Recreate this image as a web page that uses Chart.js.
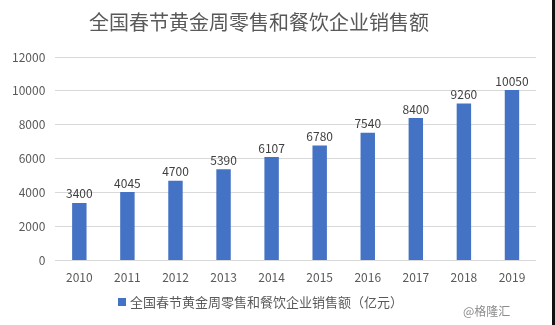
<!DOCTYPE html>
<html>
<head>
<meta charset="utf-8">
<script src="https://cdn.jsdelivr.net/npm/chart.js@4.4.1/dist/chart.umd.min.js"></script>
<style>
  html, body { margin: 0; padding: 0; background: #fff; }
  #wrap { position: relative; width: 552px; height: 325px; border-right: 3px solid #111; }
  canvas { display: block; }
</style>
</head>
<body>
<div id="wrap"><canvas id="chart" width="552" height="325"></canvas></div>
<script>
// 全国春节黄金周零售和餐饮企业销售额（亿元）
const years = ['2010', '2011', '2012', '2013', '2014', '2015', '2016', '2017', '2018', '2019'];
const sales = [3400, 4045, 4700, 5390, 6107, 6780, 7540, 8400, 9260, 10050];
const yTicks = [0, 2000, 4000, 6000, 8000, 10000, 12000];

const TITLE = '全国春节黄金周零售和餐饮企业销售额';
const SERIES = '全国春节黄金周零售和餐饮企业销售额（亿元）';
const BAR = '#4472C4';
const TEXT = '#595959';
const FONT = '"Noto Sans CJK SC", "Microsoft YaHei", sans-serif';

// title, value labels, legend and watermark drawn straight on the canvas
const decor = {
    id: 'decor',
    afterDatasetsDraw(chart) {
        const c = chart.ctx;
        const meta = chart.getDatasetMeta(0);
        c.save();
        c.fillStyle = '#404040';
        c.font = '12px ' + FONT;
        c.textAlign = 'center';
        c.textBaseline = 'bottom';
        meta.data.forEach((bar, i) => {
            c.fillText(String(sales[i]), bar.x, bar.y - 3);
        });
        c.restore();
    },
    afterDraw(chart) {
        const c = chart.ctx;
        c.save();
        c.fillStyle = TEXT;
        c.textBaseline = 'middle';
        c.textAlign = 'center';
        c.font = '20px ' + FONT;
        c.fillText(TITLE, 259, 22);

        // legend
        c.font = '13px ' + FONT;
        c.textAlign = 'left';
        c.fillStyle = BAR;
        c.fillRect(118, 298, 8, 8);
        c.fillStyle = TEXT;
        c.fillText(SERIES, 130, 302);

        // watermark
        c.fillStyle = '#8c8c8c';
        c.font = '12px ' + FONT;
        c.fillText('@格隆汇', 463, 311);
        c.restore();
    }
};

new Chart(document.getElementById('chart'), {
    type: 'bar',
    data: {
        labels: years,
        datasets: [{
            label: SERIES,
            data: sales,
            backgroundColor: BAR,
            barPercentage: 0.3,
            categoryPercentage: 1.0,
        }],
    },
    options: {
        responsive: false,
        animation: false,
        layout: { padding: { top: 57, left: 2, right: 16, bottom: 30 } },
        plugins: {
            legend: { display: false },
            tooltip: { enabled: false },
        },
        scales: {
            x: {
                grid: { display: false, drawTicks: false },
                border: { display: false },
                ticks: { color: TEXT, font: { size: 12, family: FONT }, padding: 10 },
            },
            y: {
                min: 0, max: 12000,
                afterBuildTicks(axis) { axis.ticks = yTicks.map(v => ({ value: v })); },
                grid: { color: '#D9D9D9', drawTicks: false },
                border: { display: false },
                ticks: {
                    color: TEXT, font: { size: 12, family: FONT }, padding: 10,
                    callback: v => String(v),
                },
            },
        },
    },
    plugins: [decor],
});
</script>
</body>
</html>
